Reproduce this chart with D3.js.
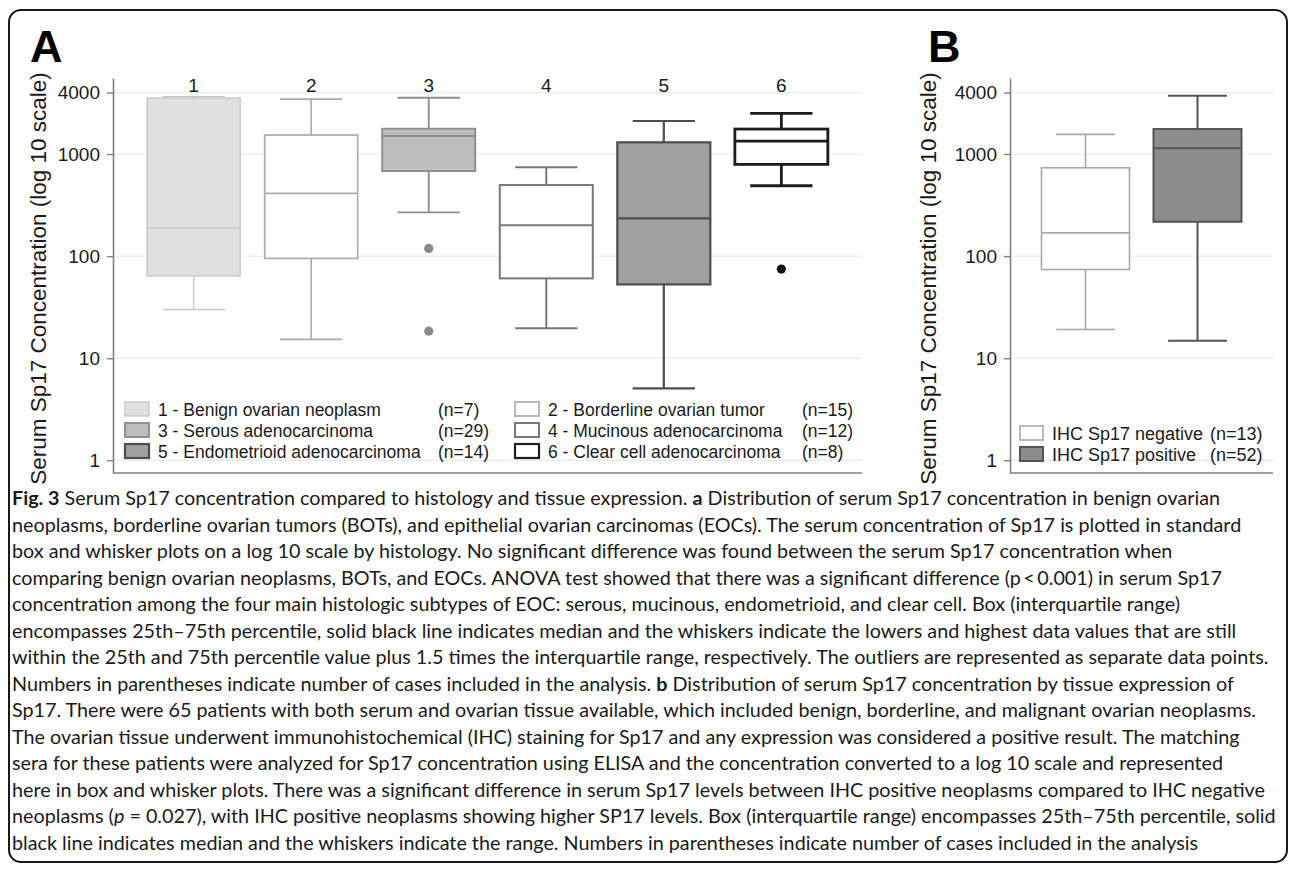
<!DOCTYPE html>
<html>
<head>
<meta charset="utf-8">
<script src="https://cdn.jsdelivr.net/npm/d3@7"></script>
<style>
  body { margin: 0; background: #fff; }
  svg { display: block; }
</style>
</head>
<body>
<svg id="fig" width="1290" height="875"></svg>
<script>
// ---- panel A data: serum Sp17 by histology ----
const groupsA = ["1", "2", "3", "4", "5", "6"];
const labelsA = [
  "1 - Benign ovarian neoplasm", "2 - Borderline ovarian tumor",
  "3 - Serous adenocarcinoma", "4 - Mucinous adenocarcinoma",
  "5 - Endometrioid adenocarcinoma", "6 - Clear cell adenocarcinoma"
];
const countsA = ["(n=7)", "(n=15)", "(n=29)", "(n=12)", "(n=14)", "(n=8)"];
const lowA = [30, 15.3, 268, 19.6, 5.05, 489];
const q1A = [64, 95, 681, 60.5, 52.8, 792];
const medianA = [188, 412, 1500, 201, 234, 1341];
const q3A = [3540, 1535, 1770, 497, 1303, 1758];
const highA = [3650, 3460, 3565, 741, 2107, 2506];
const outliersA = [[], [], [119, 18.4], [], [], [74.6]];

// ---- panel B data: serum Sp17 by tissue IHC ----
const groupsB = ["IHC Sp17 negative", "IHC Sp17 positive"];
const countsB = ["(n=13)", "(n=52)"];
const lowB = [19.1, 14.8];
const q1B = [74, 217];
const medianB = [169, 1137];
const q3B = [734, 1758];
const highB = [1560, 3730];
const outliersB = [[], []];

const yTicks = [1, 10, 100, 1000, 4000];

// caption lines, [text, style] pieces
const caption = [
  [["Fig. 3", "b"], [" Serum Sp17 concentration compared to histology and tissue expression. "], ["a", "b"], [" Distribution of serum Sp17 concentration in benign ovarian"]],
  [["neoplasms, borderline ovarian tumors (BOTs), and epithelial ovarian carcinomas (EOCs). The serum concentration of Sp17 is plotted in standard"]],
  [["box and whisker plots on a log 10 scale by histology. No significant difference was found between the serum Sp17 concentration when"]],
  [["comparing benign ovarian neoplasms, BOTs, and EOCs. ANOVA test showed that there was a significant difference (p\u2009<\u20090.001) in serum Sp17"]],
  [["concentration among the four main histologic subtypes of EOC: serous, mucinous, endometrioid, and clear cell. Box (interquartile range)"]],
  [["encompasses 25th\u201375th percentile, solid black line indicates median and the whiskers indicate the lowers and highest data values that are still"]],
  [["within the 25th and 75th percentile value plus 1.5 times the interquartile range, respectively. The outliers are represented as separate data points."]],
  [["Numbers in parentheses indicate number of cases included in the analysis. "], ["b", "b"], [" Distribution of serum Sp17 concentration by tissue expression of"]],
  [["Sp17. There were 65 patients with both serum and ovarian tissue available, which included benign, borderline, and malignant ovarian neoplasms."]],
  [["The ovarian tissue underwent immunohistochemical (IHC) staining for Sp17 and any expression was considered a positive result. The matching"]],
  [["sera for these patients were analyzed for Sp17 concentration using ELISA and the concentration converted to a log 10 scale and represented"]],
  [["here in box and whisker plots. There was a significant difference in serum Sp17 levels between IHC positive neoplasms compared to IHC negative"]],
  [["neoplasms ("], ["p", "i"], [" = 0.027), with IHC positive neoplasms showing higher SP17 levels. Box (interquartile range) encompasses 25th\u201375th percentile, solid"]],
  [["black line indicates median and the whiskers indicate the range. Numbers in parentheses indicate number of cases included in the analysis"]]
];

// ---- styles ----
const fillsA = ["#e0e0e0", "#ffffff", "#bdbdbd", "#ffffff", "#a0a0a0", "#ffffff"];
const strokesA = ["#c6c6c6", "#acacac", "#8e8e8e", "#787878", "#4e4e4e", "#1c1c1c"];
const widthsA = [1.4, 1.7, 1.9, 2, 2.2, 2.8];
const dotA = ["#888", "#888", "#8a8a8a", "#888", "#555", "#111"];
const fillsB = ["#ffffff", "#8c8c8c"];
const strokesB = ["#a8a8a8", "#555555"];
const widthsB = [1.6, 2];

const FONT = "'Liberation Sans', Arial, sans-serif";
const AXIS = "#808080";

const svg = d3.select("#fig");

svg.append("rect")
  .attr("x", 9).attr("y", 10).attr("width", 1278).attr("height", 852)
  .attr("rx", 12).attr("fill", "none").attr("stroke", "#1a1a1a").attr("stroke-width", 2);

const y = d3.scaleLog().domain([0.75, 5560]).range([473, 78]);

function drawPanel(o) {
  const g = svg.append("g");
  const x = d3.scalePoint().domain(o.groups).range([o.x0, o.x1]).padding(o.pad);

  // grid
  g.selectAll(".grid").data(yTicks).join("line")
    .attr("x1", o.x0).attr("x2", o.x1)
    .attr("y1", d => y(d)).attr("y2", d => y(d))
    .attr("stroke", "#ebebeb").attr("stroke-width", 1.3);

  // y axis
  const ax = g.append("g").attr("transform", `translate(${o.x0},0)`)
    .call(d3.axisLeft(y).tickValues(yTicks).tickFormat(d3.format("d"))
      .tickSize(6).tickSizeOuter(0).tickPadding(7));
  ax.select(".domain").attr("stroke", AXIS).attr("stroke-width", 1.6);
  ax.selectAll(".tick line").attr("stroke", AXIS).attr("stroke-width", 1.4);
  ax.selectAll(".tick text").attr("font-family", FONT).attr("font-size", 19).attr("fill", "#1a1a1a");

  // bottom line
  g.append("line").attr("x1", o.x0).attr("x2", o.x1)
    .attr("y1", y.range()[0]).attr("y2", y.range()[0])
    .attr("stroke", AXIS).attr("stroke-width", 1.6);

  // y title
  g.append("text")
    .attr("transform", `translate(${o.titleX},${(y.range()[0] + y.range()[1]) / 2 + 3}) rotate(-90)`)
    .attr("text-anchor", "middle").attr("dominant-baseline", "middle")
    .attr("font-family", FONT).attr("font-size", 22.5).attr("fill", "#1a1a1a")
    .text("Serum Sp17 Concentration (log 10 scale)");

  // panel letter
  g.append("text").attr("x", o.letterX).attr("y", 62)
    .attr("font-family", FONT).attr("font-weight", "bold").attr("font-size", 45)
    .attr("fill", "#000").text(o.letter);

  const bw = o.boxW, cw = o.boxW * 0.67;
  const boxes = g.selectAll(".box").data(o.groups).join("g")
    .attr("transform", d => `translate(${x(d)},0)`);

  boxes.each(function (d, i) {
    const b = d3.select(this);
    const st = o.strokes[i], sw = o.widths[i];
    b.append("line").attr("y1", y(o.low[i])).attr("y2", y(o.q1[i]))
      .attr("stroke", st).attr("stroke-width", sw);
    b.append("line").attr("y1", y(o.q3[i])).attr("y2", y(o.high[i]))
      .attr("stroke", st).attr("stroke-width", sw);
    b.append("line").attr("x1", -cw / 2).attr("x2", cw / 2)
      .attr("y1", y(o.low[i])).attr("y2", y(o.low[i]))
      .attr("stroke", st).attr("stroke-width", sw);
    b.append("line").attr("x1", -cw / 2).attr("x2", cw / 2)
      .attr("y1", y(o.high[i])).attr("y2", y(o.high[i]))
      .attr("stroke", st).attr("stroke-width", sw);
    b.append("rect").attr("x", -bw / 2).attr("width", bw)
      .attr("y", y(o.q3[i])).attr("height", y(o.q1[i]) - y(o.q3[i]))
      .attr("fill", o.fills[i]).attr("stroke", st).attr("stroke-width", sw);
    b.append("line").attr("x1", -bw / 2).attr("x2", bw / 2)
      .attr("y1", y(o.median[i])).attr("y2", y(o.median[i]))
      .attr("stroke", st).attr("stroke-width", sw);
    b.selectAll("circle").data(o.outliers[i]).join("circle")
      .attr("cy", v => y(v)).attr("r", 4.6).attr("fill", o.dots[i]);
  });

  if (o.showNames) {
    g.selectAll(".cat").data(o.groups).join("text")
      .attr("x", d => x(d)).attr("y", 92)
      .attr("text-anchor", "middle")
      .attr("font-family", FONT).attr("font-size", 19).attr("fill", "#1a1a1a")
      .text(d => d);
  }
  return g;
}

const gA = drawPanel({
  groups: groupsA, x0: 113, x1: 862, pad: 0.686, boxW: 93,
  low: lowA, q1: q1A, median: medianA, q3: q3A, high: highA, outliers: outliersA,
  fills: fillsA, strokes: strokesA, widths: widthsA, dots: dotA,
  titleX: 40, letter: "A", letterX: 30, showNames: true
});

const gB = drawPanel({
  groups: groupsB, x0: 1010, x1: 1273, pad: 0.674, boxW: 88,
  low: lowB, q1: q1B, median: medianB, q3: q3B, high: highB, outliers: outliersB,
  fills: fillsB, strokes: strokesB, widths: widthsB, dots: ["#555", "#555"],
  titleX: 930, letter: "B", letterX: 928, showNames: false
});

// legend A (two columns)
const legA = gA.selectAll(".leg").data(labelsA).join("g")
  .attr("transform", (d, i) => `translate(${i % 2 ? 515 : 125},${402 + Math.floor(i / 2) * 21})`);
legA.append("rect").attr("width", 24).attr("height", 14)
  .attr("fill", (d, i) => fillsA[i]).attr("stroke", (d, i) => strokesA[i])
  .attr("stroke-width", (d, i) => Math.min(widthsA[i], 2.2));
legA.append("text").attr("x", 33).attr("y", 13.5)
  .attr("font-family", FONT).attr("font-size", 17.5).attr("fill", "#1a1a1a")
  .text(d => d);
legA.append("text").attr("x", (d, i) => i % 2 ? 287 : 313).attr("y", 13.5)
  .attr("font-family", FONT).attr("font-size", 17.5).attr("fill", "#1a1a1a")
  .text((d, i) => countsA[i]);

// legend B
const legB = gB.selectAll(".leg").data(groupsB).join("g")
  .attr("transform", (d, i) => `translate(1020,${426 + i * 21})`);
legB.append("rect").attr("width", 23).attr("height", 14)
  .attr("fill", (d, i) => fillsB[i]).attr("stroke", (d, i) => strokesB[i])
  .attr("stroke-width", (d, i) => widthsB[i]);
legB.append("text").attr("x", 32).attr("y", 13.5)
  .attr("font-family", FONT).attr("font-size", 18).attr("fill", "#1a1a1a")
  .text(d => d);
legB.append("text").attr("x", 190).attr("y", 13.5)
  .attr("font-family", FONT).attr("font-size", 18).attr("fill", "#1a1a1a")
  .text((d, i) => countsB[i]);

// caption
const CAP_FONT = "Lato, 'Open Sans', sans-serif";
const cap = svg.append("g").attr("font-family", CAP_FONT).attr("fill", "#1a1a1a");
function writeLine(t, parts) {
  parts.forEach(p => {
    t.append("tspan").text(p[0])
      .attr("font-weight", p[1] === "b" ? "bold" : null)
      .attr("font-style", p[1] === "i" ? "italic" : null);
  });
}
// fit caption size to the widest line
const probe = cap.append("text").attr("font-size", 100);
writeLine(probe, caption[6]);
const capSize = 100 * 1257 / probe.node().getComputedTextLength();
probe.remove();

caption.forEach((parts, i) => {
  const t = cap.append("text").attr("x", 12).attr("y", 505 + i * 26.5)
    .attr("font-size", capSize);
  writeLine(t, parts);
});
</script>
</body>
</html>
